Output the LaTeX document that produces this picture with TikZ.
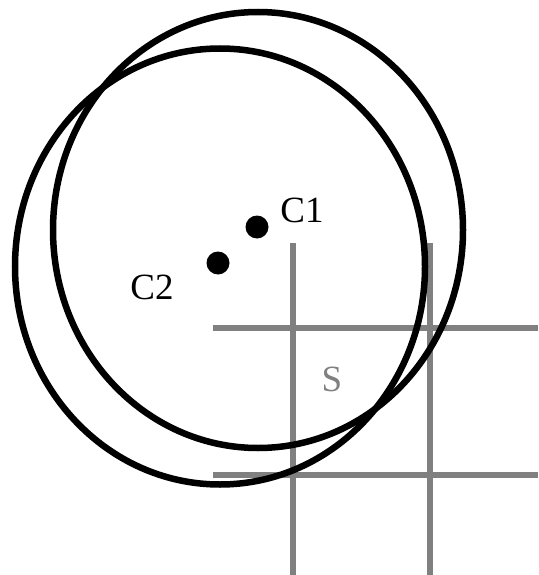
\documentclass[tikz,border=0pt]{standalone}
\usepackage{fontspec}
\setmainfont{Liberation Serif}
\usetikzlibrary{positioning}

\tikzset{
  centre/.style={circle,fill=black,inner sep=0pt,minimum size=23pt},
  tag/.style={font=\fontsize{37}{40}\selectfont},
  gridline/.style={gray,line width=6pt}
}

\begin{document}
\begin{tikzpicture}[x=1pt,y=-1pt,line width=6.5pt]
  \useasboundingbox (0,0) rectangle (538,575);
  % Region S between the grid lines
  \draw[gridline] (292.5,243) -- (292.5,575);
  \draw[gridline] (429.5,243) -- (429.5,575);
  \draw[gridline] (213,328) -- (538,328);
  \draw[gridline] (213,475) -- (538,475);
  \node[tag,text=gray] (s) at (332,379) {S};
  % The two circles and their centres
  \draw (258,230) ellipse [x radius=205,y radius=218];
  \draw (220,266.5) ellipse [x radius=205,y radius=218];
  \node[centre] (c1) at (257,227) {};
  \node[centre] (c2) at (218,263) {};
  \node[tag] (c1label) at (302,210) {C1};
  \node[tag] (c2label) at (152,287) {C2};
\end{tikzpicture}
\end{document}
